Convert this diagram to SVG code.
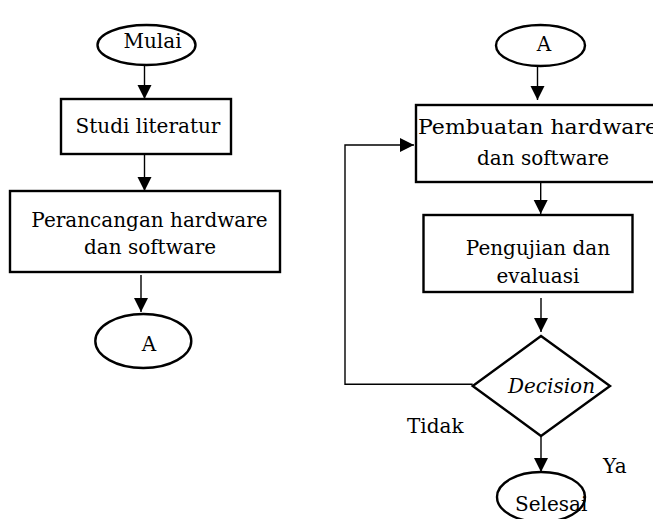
<svg xmlns="http://www.w3.org/2000/svg" width="653" height="519" viewBox="0 0 653 519">
<defs>
<marker id="ah" markerUnits="userSpaceOnUse" markerWidth="15" markerHeight="15" refX="14" refY="7" orient="auto">
<path d="M0,0 L14,7 L0,14 Z" fill="#000"/>
</marker>
<style>
.sh{fill:#fff;stroke:#000;stroke-width:2.4}
.t{font-family:"DejaVu Serif","Liberation Serif",serif;font-size:20px;fill:#000}
.m{text-anchor:middle}
.c{fill:none;stroke:#000;stroke-width:1.4}
</style>
</defs>
<rect width="653" height="519" fill="#fff"/>
<g id="connectors">
<line class="c" x1="144.5" y1="65" x2="144.5" y2="99" marker-end="url(#ah)"/>
<line class="c" x1="144.5" y1="154" x2="144.5" y2="191" marker-end="url(#ah)"/>
<line class="c" x1="141" y1="275" x2="141" y2="312" marker-end="url(#ah)"/>
<line class="c" x1="537.5" y1="66" x2="537.5" y2="100" marker-end="url(#ah)"/>
<line class="c" x1="540.7" y1="182" x2="540.7" y2="214" marker-end="url(#ah)"/>
<line class="c" x1="541" y1="298" x2="541" y2="332" marker-end="url(#ah)"/>
<line class="c" x1="541" y1="436" x2="541" y2="472" marker-end="url(#ah)"/>
<polyline class="c" points="472.7,384.3 345,384.3 345,145 414,145" marker-end="url(#ah)"/>
</g>
<g id="mulai">
<ellipse class="sh" cx="146.5" cy="45" rx="49" ry="20"/>
<text class="t m" x="152.5" y="48">Mulai</text>
</g>
<g id="studi">
<rect class="sh" x="61" y="99" width="170" height="55"/>
<text class="t m" x="148" y="133">Studi literatur</text>
</g>
<g id="perancangan">
<rect class="sh" x="10" y="191" width="270" height="81"/>
<text class="t m" x="149.5" y="227">Perancangan hardware</text>
<text class="t m" x="150" y="254">dan software</text>
</g>
<g id="a-left">
<ellipse class="sh" cx="143.3" cy="341" rx="48" ry="27"/>
<text class="t m" x="149" y="351">A</text>
</g>
<g id="a-right">
<ellipse class="sh" cx="540.5" cy="45.5" rx="44.5" ry="20.5"/>
<text class="t m" x="544" y="51">A</text>
</g>
<g id="pembuatan">
<rect class="sh" x="416" y="105" width="250" height="77"/>
<text class="t" x="418" y="134" textLength="240" lengthAdjust="spacingAndGlyphs">Pembuatan hardware</text>
<text class="t m" x="543" y="165">dan software</text>
</g>
<g id="pengujian">
<rect class="sh" x="423.5" y="215" width="209" height="77"/>
<text class="t m" x="538" y="255">Pengujian dan</text>
<text class="t m" x="538" y="283">evaluasi</text>
</g>
<g id="decision">
<polygon class="sh" points="541,336 610,386 541,436 472.7,386"/>
<text class="t m" x="551.5" y="393" font-style="italic">Decision</text>
</g>
<g id="labels">
<text class="t" x="407" y="433">Tidak</text>
<text class="t" x="603" y="473">Ya</text>
</g>
<g id="selesai">
<ellipse class="sh" cx="541" cy="497" rx="44" ry="25"/>
<text class="t" x="515" y="511">Selesai</text>
</g>
</svg>
